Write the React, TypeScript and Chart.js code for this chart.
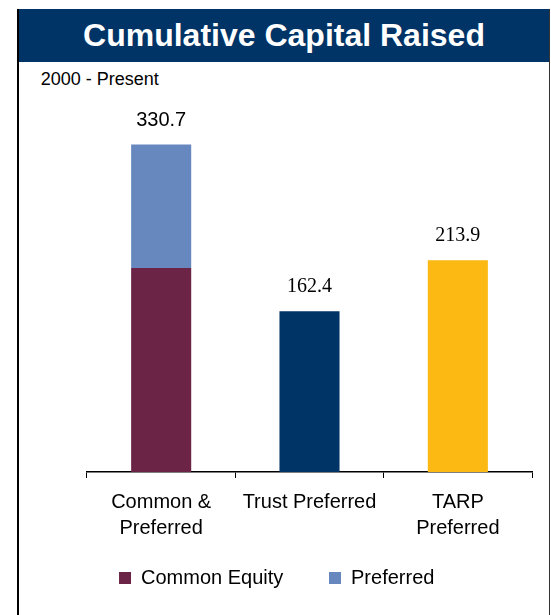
import { useEffect, useRef } from "react";
import { Chart, registerables } from "chart.js";

Chart.register(...registerables);

const categories: (string | string[])[] = [["Common &", "Preferred"], "Trust Preferred", ["TARP", "Preferred"]];
const seriesNames = ["Common Equity", "Preferred", "Trust Preferred", "TARP Preferred"];
const commonEquity = [206, null, null];
const preferred = [124.7, null, null];
const trustPreferred = [null, 162.4, null];
const tarpPreferred = [null, null, 213.9];
const yMax = 340;

const SANS = "Arial, 'Liberation Sans', Helvetica, sans-serif";
const SERIF = "'Book Antiqua', Palatino, 'Liberation Serif', serif";
const labelFonts = [SANS, SERIF, SERIF];

const totalsPlugin = {
  id: "totals",
  afterDatasetsDraw(chart: any) {
    const { ctx } = chart;
    const x = chart.scales.x;
    const y = chart.scales.y;
    const n = chart.data.labels.length;
    ctx.save();
    ctx.fillStyle = "#000";
    ctx.textAlign = "center";
    ctx.textBaseline = "middle";
    for (let i = 0; i < n; i++) {
      let total = 0;
      chart.data.datasets.forEach((ds: any) => {
        const v = ds.data[i];
        if (v != null) total += v;
      });
      ctx.font = `20px ${labelFonts[i]}`;
      ctx.fillText(total.toFixed(1), x.getPixelForValue(i), y.getPixelForValue(total) - 24);
    }
    ctx.restore();
  },
};

export default function App() {
  const ref = useRef<HTMLCanvasElement>(null);

  useEffect(() => {
    if (!ref.current) return;
    const chart = new Chart(ref.current, {
      type: "bar",
      data: {
        labels: categories,
        datasets: [
          { label: seriesNames[0], data: commonEquity, backgroundColor: "#6B2346" },
          { label: seriesNames[1], data: preferred, backgroundColor: "#6688BF" },
          { label: seriesNames[2], data: trustPreferred, backgroundColor: "#003366" },
          { label: seriesNames[3], data: tarpPreferred, backgroundColor: "#FDB913" },
        ],
      },
      options: {
        responsive: false,
        animation: false,
        datasets: { bar: { categoryPercentage: 1, barPercentage: 0.405 } },
        layout: { padding: { top: 73.4, left: 2.4, right: 17, bottom: 17 } },
        scales: {
          x: {
            stacked: true,
            grid: { display: true, drawOnChartArea: false, drawTicks: true, tickLength: 6, color: "#000", offset: true },
            border: { display: true, color: "#000", width: 1.5 },
            ticks: {
              color: "#000",
              font: { family: SANS, size: 20, lineHeight: 1.28 },
              mirror: true,
              padding: -43.6,
              maxRotation: 0,
              autoSkip: false,
            },
            afterFit: (s: any) => {
              s.height = 50.3;
            },
          },
          y: {
            stacked: true,
            min: 0,
            max: yMax,
            grid: { display: false },
            border: { display: false },
            ticks: { display: false },
            afterFit: (s: any) => {
              s.width = 65.6;
            },
          },
        },
        plugins: {
          legend: {
            position: "bottom",
            labels: {
              filter: (item: any) => item.datasetIndex < 2,
              boxWidth: 12,
              boxHeight: 12,
              padding: 45.7,
              color: "#000",
              font: { family: SANS, size: 20 },
            },
          },
          tooltip: { enabled: false },
        },
      },
      plugins: [totalsPlugin],
    } as any);
    return () => chart.destroy();
  }, []);

  return (
    <div
      style={{
        position: "absolute",
        left: 17,
        top: 9,
        width: 530,
        height: 606,
        borderLeft: "2px solid #000",
        borderRight: "1px solid #333",
        background: "#fff",
        overflow: "hidden",
      }}
    >
      <div
        style={{
          height: 53,
          lineHeight: "53px",
          background: "#003366",
          color: "#fff",
          fontFamily: SANS,
          fontWeight: "bold",
          fontSize: 32,
          textAlign: "center",
        }}
      >
        Cumulative Capital Raised
      </div>
      <div
        style={{
          position: "absolute",
          left: 21.7,
          top: 60.5,
          fontFamily: SANS,
          fontSize: 18,
          lineHeight: "18px",
          color: "#000",
          whiteSpace: "nowrap",
        }}
      >
        2000 - Present
      </div>
      <canvas
        ref={ref}
        width={530}
        height={553}
        style={{ position: "absolute", left: 0, top: 53, width: 530, height: 553, display: "block" }}
      />
    </div>
  );
}
